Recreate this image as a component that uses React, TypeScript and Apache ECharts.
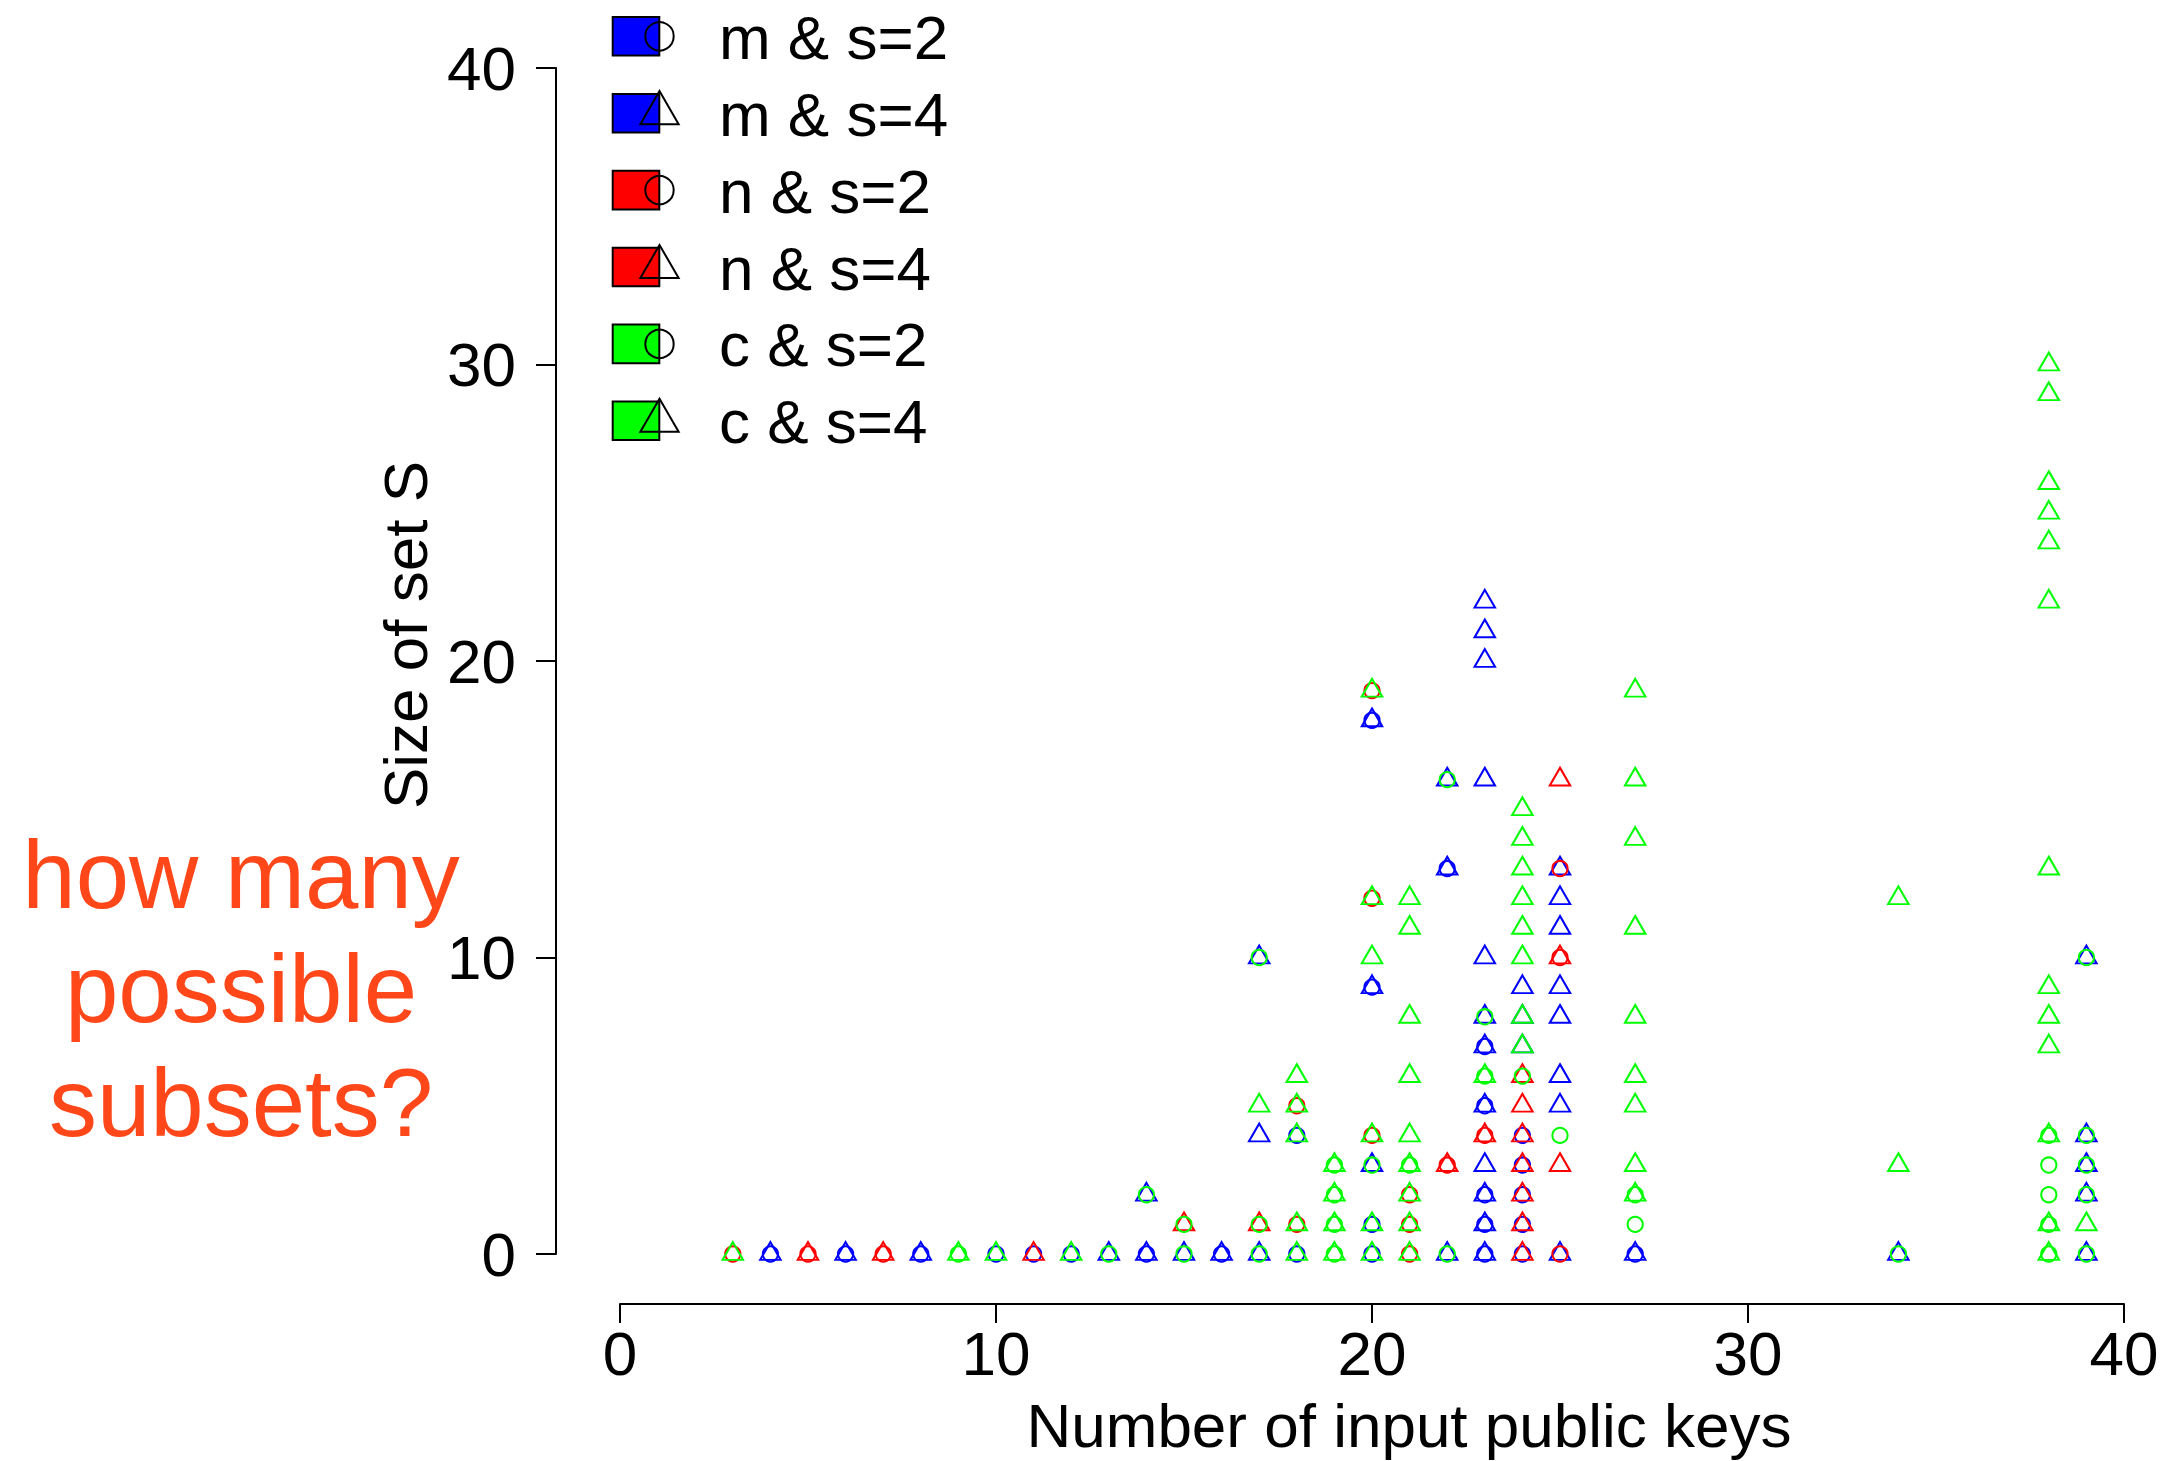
import React, { useEffect, useRef } from "react";
import * as echarts from "echarts";

const FONT = "'Liberation Sans', Arial, Helvetica, sans-serif";

// Series: key source (m / n / c) combined with subset size s
const seriesNames = ["m & s=2", "m & s=4", "n & s=2", "n & s=4", "c & s=2", "c & s=4"];
const seriesColors = ["#0000FF", "#0000FF", "#FF0000", "#FF0000", "#00FF00", "#00FF00"];
const seriesShapes = ["circle", "triangle", "circle", "triangle", "circle", "triangle"];

const xTicks = [0, 10, 20, 30, 40];
const yTicks = [0, 10, 20, 30, 40];

// Points are [number of input public keys, size of set S]
const mS2 = [
  [4, 0], [6, 0], [8, 0], [10, 0], [11, 0], [12, 0], [14, 0], [16, 0], [18, 0], [18, 4],
  [20, 0], [20, 1], [20, 9], [20, 18], [22, 13], [23, 0], [23, 1], [23, 2], [23, 5], [23, 7],
  [24, 0], [24, 1], [24, 2], [24, 3], [24, 4], [27, 0],
];
const mS4 = [
  [4, 0], [6, 0], [8, 0], [13, 0], [14, 0], [14, 2], [15, 0], [16, 0], [17, 0], [17, 4],
  [17, 10], [20, 3], [20, 9], [20, 18], [22, 0], [22, 13], [22, 16], [23, 0], [23, 1], [23, 2],
  [23, 3], [23, 5], [23, 7], [23, 8], [23, 10], [23, 16], [23, 20], [23, 21], [23, 22],
  [24, 7], [24, 8], [24, 9], [25, 0], [25, 5], [25, 6], [25, 8], [25, 9], [25, 11], [25, 12],
  [25, 13], [27, 0], [34, 0], [39, 0], [39, 2], [39, 3], [39, 4], [39, 10],
];
const nS2 = [
  [3, 0], [5, 0], [7, 0], [18, 1], [18, 5], [20, 4], [20, 12], [20, 19], [21, 0], [21, 1],
  [21, 2], [22, 3], [23, 4], [25, 0], [25, 10], [25, 13],
];
const nS4 = [
  [5, 0], [7, 0], [11, 0], [15, 1], [17, 1], [22, 3], [23, 4], [24, 0], [24, 1], [24, 2],
  [24, 3], [24, 4], [24, 5], [24, 6], [25, 3], [25, 10], [25, 16],
];
const cS2 = [
  [9, 0], [13, 0], [14, 2], [15, 0], [15, 1], [17, 0], [17, 1], [17, 10], [19, 0], [19, 1],
  [19, 2], [19, 3], [20, 3], [21, 3], [22, 0], [22, 16], [23, 6], [23, 8], [24, 6], [25, 4],
  [27, 1], [27, 2], [34, 0], [38, 0], [38, 1], [38, 2], [38, 3], [38, 4], [39, 0], [39, 2],
  [39, 3], [39, 4], [39, 10],
];
const cS4 = [
  [3, 0], [9, 0], [10, 0], [12, 0], [17, 5], [18, 0], [18, 1], [18, 4], [18, 5], [18, 6],
  [19, 0], [19, 1], [19, 2], [19, 3], [20, 0], [20, 1], [20, 4], [20, 10], [20, 12], [20, 19],
  [21, 0], [21, 1], [21, 2], [21, 3], [21, 4], [21, 6], [21, 8], [21, 11], [21, 12], [23, 6],
  [24, 7], [24, 8], [24, 10], [24, 11], [24, 12], [24, 13], [24, 14], [24, 15],
  [27, 2], [27, 3], [27, 5], [27, 6], [27, 8], [27, 11], [27, 14], [27, 16], [27, 19],
  [34, 3], [34, 12], [38, 0], [38, 1], [38, 4], [38, 7], [38, 8], [38, 9], [38, 13],
  [38, 22], [38, 24], [38, 25], [38, 26], [38, 29], [38, 30], [39, 1],
];
const seriesData = [mS2, mS4, nS2, nS4, cS2, cS4];

const annotation = "how many\npossible\nsubsets?";

// Marker geometry in the style of base-graphics open circle / open triangle
const R = 7.6;
const TRI_W = 2.694 * R;
const TRI_H = 2.333 * R;
const TRI_SHIFT = -((1.555 - 0.778) / 2) * R;

function legendGraphics() {
  const els: any[] = [];
  const LR = 14.2;
  const cx = 659.5;
  seriesNames.forEach((name, i) => {
    const rc = 36.3 + i * 76.9;
    els.push({
      type: "rect",
      shape: { x: 612.7, y: rc - 19.3, width: 46.6, height: 38.6 },
      style: { fill: seriesColors[i], stroke: "#000", lineWidth: 2 },
      silent: true,
    });
    if (seriesShapes[i] === "circle") {
      els.push({
        type: "circle",
        shape: { cx, cy: rc, r: LR },
        style: { fill: "none", stroke: "#000", lineWidth: 2 },
        silent: true,
      });
    } else {
      els.push({
        type: "polygon",
        shape: {
          points: [
            [cx, rc - 1.555 * LR],
            [cx + 1.347 * LR, rc + 0.778 * LR],
            [cx - 1.347 * LR, rc + 0.778 * LR],
          ],
        },
        style: { fill: "none", stroke: "#000", lineWidth: 2 },
        silent: true,
      });
    }
    els.push({
      type: "text",
      x: 719,
      y: rc + 1,
      style: {
        text: name,
        fontSize: 62,
        fontFamily: FONT,
        fill: "#000",
        verticalAlign: "middle",
        align: "left",
      },
      silent: true,
    });
  });
  els.push({
    type: "text",
    x: 241,
    y: 988,
    style: {
      text: annotation,
      fontSize: 96,
      lineHeight: 114,
      fontFamily: FONT,
      fill: "#FF4719",
      align: "center",
      verticalAlign: "middle",
    },
    silent: true,
  });
  return els;
}

export default function App() {
  const ref = useRef<HTMLDivElement>(null);

  useEffect(() => {
    if (!ref.current) return;
    const chart = echarts.init(ref.current, undefined, { renderer: "svg" });

    const axisText = { fontSize: 62, fontFamily: FONT, color: "#000" };

    const option: any = {
      animation: false,
      backgroundColor: "#ffffff",
      grid: { left: 620, top: 68, width: 1504, height: 1186, containLabel: false },
      xAxis: {
        type: "value",
        min: xTicks[0],
        max: xTicks[xTicks.length - 1],
        interval: xTicks[1] - xTicks[0],
        offset: 50,
        name: "Number of input public keys",
        nameLocation: "middle",
        nameGap: 121,
        nameTextStyle: {
          ...axisText,
          verticalAlign: "middle",
          lineHeight: 62,
          padding: [0, 0, 0, 74],
        },
        axisLine: { show: true, onZero: false, lineStyle: { color: "#000", width: 2 } },
        axisTick: { show: true, inside: false, length: 19, lineStyle: { color: "#000", width: 2 } },
        axisLabel: { ...axisText, margin: 18, lineHeight: 62 },
        splitLine: { show: false },
      },
      yAxis: {
        type: "value",
        min: yTicks[0],
        max: yTicks[yTicks.length - 1],
        interval: yTicks[1] - yTicks[0],
        offset: 64,
        name: "Size of set S",
        nameLocation: "middle",
        nameGap: 142,
        nameTextStyle: {
          ...axisText,
          verticalAlign: "middle",
          lineHeight: 62,
          padding: [0, 0, 0, 52],
        },
        axisLine: { show: true, onZero: false, lineStyle: { color: "#000", width: 2 } },
        axisTick: { show: true, inside: false, length: 20, lineStyle: { color: "#000", width: 2 } },
        axisLabel: { ...axisText, margin: 40, verticalAlign: "middle" },
        splitLine: { show: false },
      },
      series: seriesNames.map((name, i) => ({
        type: "scatter",
        name,
        data: seriesData[i],
        symbol: seriesShapes[i],
        symbolSize: seriesShapes[i] === "circle" ? 2 * R : [TRI_W, TRI_H],
        symbolOffset: seriesShapes[i] === "circle" ? [0, 0] : [0, TRI_SHIFT],
        itemStyle: {
          color: "rgba(0,0,0,0)",
          borderColor: seriesColors[i],
          borderWidth: 2,
          opacity: 1,
        },
        emphasis: { disabled: true },
        z: 2 + i,
      })),
      graphic: { elements: legendGraphics() },
    };

    chart.setOption(option);
    return () => chart.dispose();
  }, []);

  return (
    <div
      ref={ref}
      style={{
        position: "fixed",
        left: 0,
        top: 0,
        width: 2165,
        height: 1461,
        background: "#fff",
      }}
    />
  );
}
